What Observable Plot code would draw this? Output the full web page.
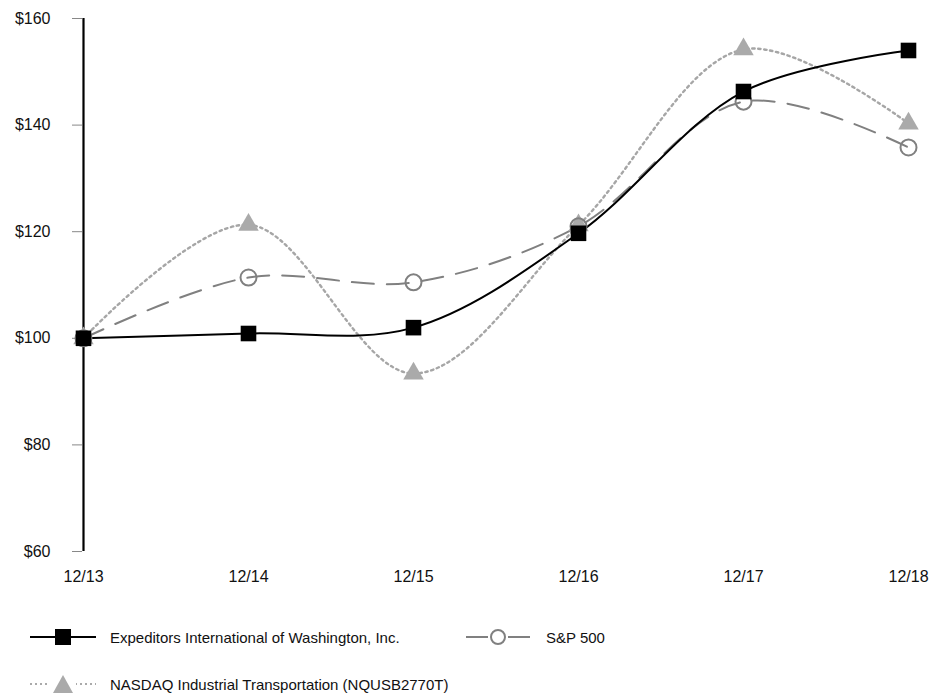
<!DOCTYPE html>
<html>
<head>
<meta charset="utf-8">
<script src="https://cdn.jsdelivr.net/npm/d3@7"></script>
<script src="https://cdn.jsdelivr.net/npm/@observablehq/plot@0.6"></script>
<style>
  html, body { margin: 0; padding: 0; background: #fff; }
  #wrap { position: relative; width: 936px; height: 694px; font-family: "Liberation Sans", Arial, sans-serif; }
  .leg { position: absolute; display: flex; align-items: center; font-size: 15px; color: #111; }
  .leg svg { margin-right: 14px; }
</style>
</head>
<body>
<div id="wrap"></div>
<script>
const periods = ["12/13", "12/14", "12/15", "12/16", "12/17", "12/18"];
const expeditors = [100, 100.9, 102.0, 119.7, 146.3, 154.0];
const sp500 = [100, 111.4, 110.5, 121.0, 144.4, 135.8];
const nasdaq = [100, 121.3, 93.4, 121.2, 154.2, 140.3];
const yTicks = [60, 80, 100, 120, 140, 160];
const seriesNames = [
  "Expeditors International of Washington, Inc.",
  "S&P 500",
  "NASDAQ Industrial Transportation (NQUSB2770T)"
];

const toRows = (vals) => periods.map((p, i) => ({period: p, value: vals[i]}));
const rExp = toRows(expeditors), rSp = toRows(sp500), rNq = toRows(nasdaq);

const plot = Plot.plot({
  width: 936,
  height: 600,
  marginLeft: 82,
  marginRight: 27,
  marginTop: 18,
  marginBottom: 49,
  style: {fontFamily: "'Liberation Sans', Arial, sans-serif", fontSize: "16px", color: "#111", background: "#fff"},
  x: {type: "point", domain: periods, padding: 0},
  y: {domain: [60, 160]},
  marks: [
    Plot.axisY({ticks: yTicks, tickSize: 10, tickPadding: 22, stroke: "#888", tickFormat: d => "$" + d, label: null, fontSize: 16}),
    Plot.axisX({tickSize: 0, tickPadding: 19, label: null, fontSize: 16}),
    Plot.line(rNq, {x: "period", y: "value", stroke: "#a6a6a6", strokeWidth: 2.4, strokeDasharray: "2.4,3.6", curve: "catmull-rom"}),
    Plot.line(rSp, {x: "period", y: "value", stroke: "#808080", strokeWidth: 2, strokeDasharray: "22,13", curve: "catmull-rom"}),
    Plot.line(rExp, {x: "period", y: "value", stroke: "#000", strokeWidth: 2, curve: "catmull-rom"}),
    Plot.ruleX([periods[0]], {stroke: "#000", strokeWidth: 2.2}),
    Plot.dot(rNq, {x: "period", y: "value", symbol: "triangle", r: 7.6, fill: "#aaaaaa", stroke: "none"}),
    Plot.dot(rSp, {x: "period", y: "value", symbol: "circle", r: 8, fill: "none", stroke: "#808080", strokeWidth: 2}),
    Plot.dot(rExp, {x: "period", y: "value", symbol: "square", r: 8.8, fill: "#000", stroke: "none"})
  ]
});
const wrap = document.getElementById("wrap");
wrap.appendChild(plot);

function legendItem(left, top, kind, text) {
  const div = document.createElement("div");
  div.className = "leg";
  div.style.left = left + "px";
  div.style.top = top + "px";
  let line, marker;
  if (kind === 0) {
    line = '<line x1="0" y1="12" x2="66" y2="12" stroke="#000" stroke-width="2"/>';
    marker = '<rect x="25" y="4" width="16" height="16" fill="#000"/>';
  } else if (kind === 1) {
    line = '<line x1="0" y1="12" x2="22" y2="12" stroke="#808080" stroke-width="2"/><line x1="42" y1="12" x2="64" y2="12" stroke="#808080" stroke-width="2"/>';
    marker = '<circle cx="32" cy="12" r="7" fill="none" stroke="#808080" stroke-width="2"/>';
  } else {
    line = '<line x1="0" y1="12" x2="66" y2="12" stroke="#aaaaaa" stroke-width="2" stroke-dasharray="2,3"/>';
    marker = '<rect x="20" y="2" width="26" height="20" fill="#fff"/><path d="M33,3 L43,21 L23,21 Z" fill="#aaaaaa"/>';
  }
  div.innerHTML = '<svg width="66" height="24">' + line + marker + '</svg><span>' + text + '</span>';
  wrap.appendChild(div);
}
legendItem(30, 625, 0, seriesNames[0]);
legendItem(466, 625, 1, seriesNames[1]);
legendItem(30, 672, 2, seriesNames[2]);
</script>
</body>
</html>
